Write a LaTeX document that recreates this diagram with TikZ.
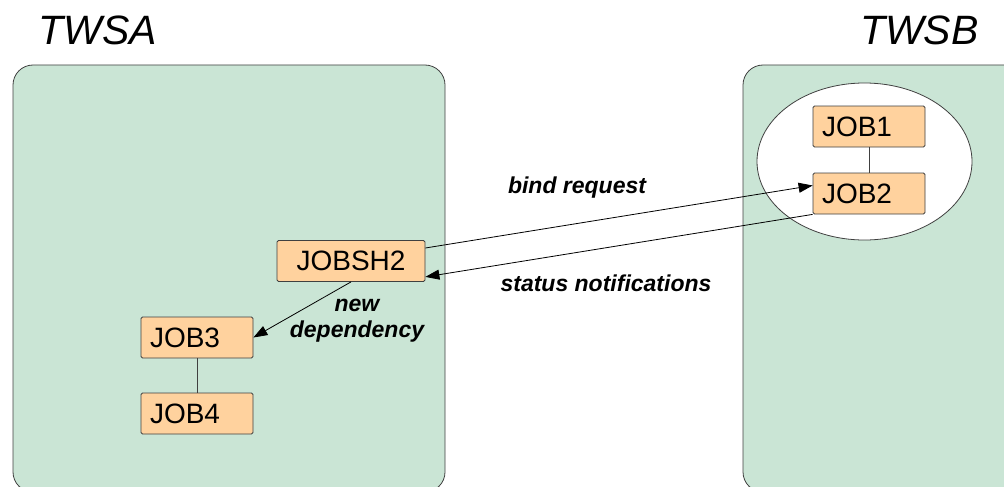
\documentclass[tikz,border=0pt]{standalone}
\usepackage{fontspec}
\setmainfont{Liberation Sans}
\usetikzlibrary{shapes.geometric,arrows.meta}

\definecolor{panelgreen}{RGB}{202,229,213}
\definecolor{jobfill}{RGB}{255,210,158}
\definecolor{edgegray}{RGB}{64,64,64}

\tikzset{
  panel/.style={draw=edgegray, fill=panelgreen, line width=0.8pt, rounded corners=20pt},
  jobbox/.style={draw=edgegray, fill=jobfill, line width=0.8pt, rounded corners=1.5pt,
    minimum height=41pt, inner xsep=9pt, inner ysep=0pt, text width=94pt, align=left,
    font=\fontsize{28}{30}\selectfont},
  title/.style={font=\fontsize{41}{44}\selectfont\itshape},
  msg/.style={font=\fontsize{23}{26}\selectfont\bfseries\itshape, align=center},
  link/.style={draw=edgegray, line width=0.8pt},
  flow/.style={draw=black, line width=0.8pt, -{Triangle[length=14pt,width=10pt]}}
}

\begin{document}
\begin{tikzpicture}[x=1pt,y=-1pt]
  \useasboundingbox (0,0) rectangle (1004,487);
  % the two workstations
  \draw[panel] (13,65) rectangle (445,492);
  \draw[panel] (743,65) rectangle (1040,492);
  \node[title, anchor=base west] (twsa) at (35,45) {TWSA};
  \node[title, anchor=base east] (twsb) at (982,45) {TWSB};

  \node[draw=edgegray, line width=0.8pt, fill=white, ellipse,
        minimum width=215pt, minimum height=157pt] (scope) at (864.5,161.5) {};

  \node[jobbox] (job1) at (869,126.5) {JOB1};
  \node[jobbox] (job2) at (869,193.5) {JOB2};
  \node[jobbox, text width=130pt, align=center] (jobsh2) at (351,261) {JOBSH2};
  \node[jobbox] (job3) at (197,337.5) {JOB3};
  \node[jobbox] (job4) at (197,413.5) {JOB4};

  \draw[link] (job1) -- (job2);
  \draw[link] (job3) -- (job4);

  \draw[flow] ([yshift=13pt]jobsh2.east) -- ([yshift=8pt]job2.west);
  \draw[flow] (job2.south west) -- ([yshift=5pt]jobsh2.south east);
  \draw[flow] (jobsh2.south) -- (job3.east);

  \node[msg] (bind) at (577,188) {bind request};
  \node[msg] (status) at (606,283) {status notifications};
  \node[msg, anchor=north] (newdep) at (357,296) {new\\dependency};
\end{tikzpicture}
\end{document}
